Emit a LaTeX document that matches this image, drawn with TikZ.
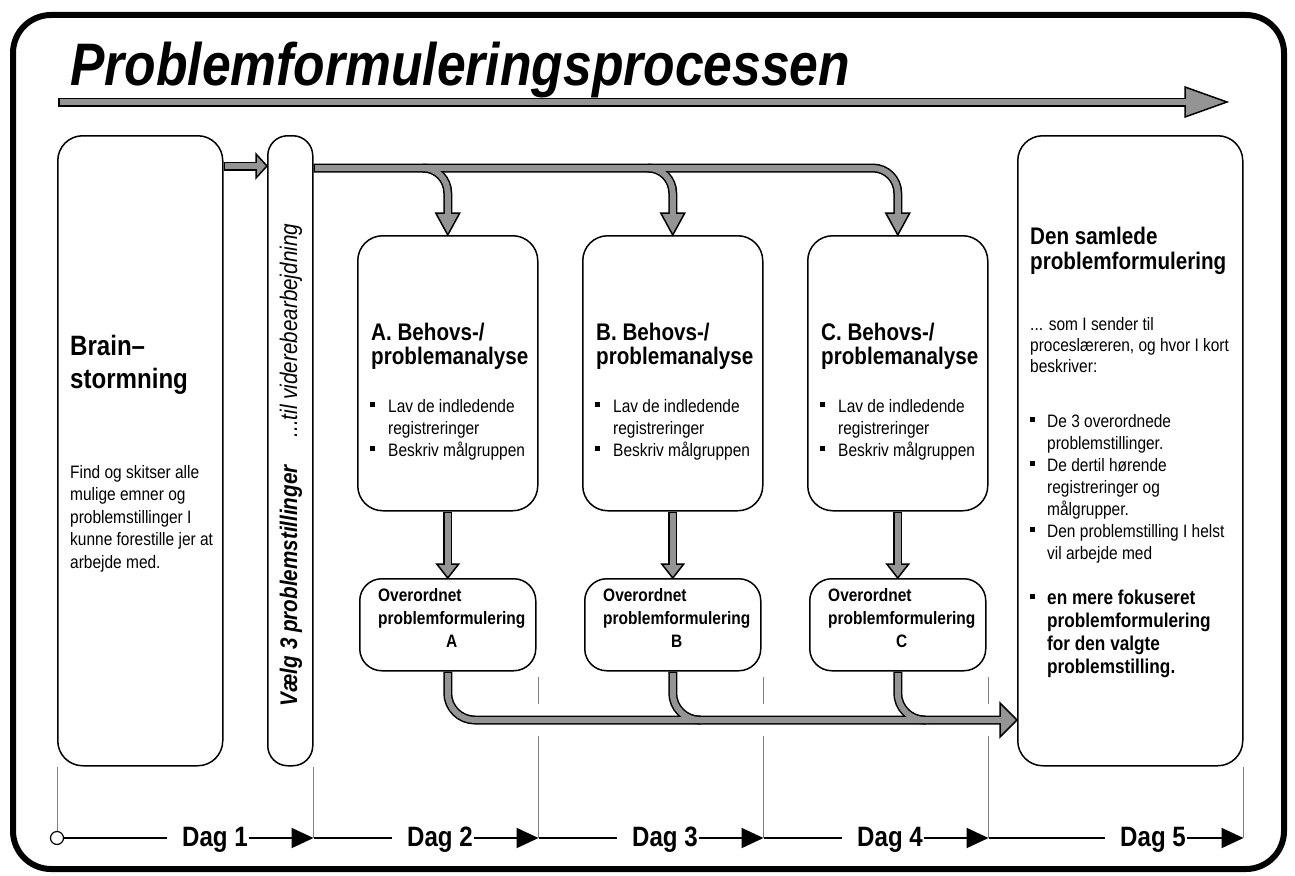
\documentclass[tikz,border=0pt]{standalone}
\usepackage{fontspec}
\setmainfont{Liberation Sans}[FakeStretch=0.86]
\usetikzlibrary{calc,arrows.meta}
\definecolor{arrgray}{gray}{0.58}
\definecolor{guidegray}{gray}{0.5}
\newcommand\bsq{\raisebox{5pt}{\rule{5pt}{5pt}}}
\newcommand\fs[2]{\fontsize{#1}{#2}\selectfont}
\newcommand\hdown[3]{\filldraw[ahead] ($(#1)+(-#3,-#2)$) -- (#1) -- ($(#1)+(#3,-#2)$) -- cycle;}
\newcommand\hright[3]{\filldraw[ahead] ($(#1)+(-#2,-#3)$) -- (#1) -- ($(#1)+(-#2,#3)$) -- cycle;}
\newcommand\allpipes[1]{%
  \draw[#1] (ts) -- ($(te)+(-42,0)$);
  \draw[#1] (bs) -- ($(bv)+(-11,0)$);
  \draw[#1, rounded corners=25pt] (t0) -- (bC.north |- t0) -- ($(bC.north)+(0,-22)$);
  \draw[#1, rounded corners=25pt] ($(bA.north |- t0)+(-25,0)$) -- (bA.north |- t0) -- ($(bA.north)+(0,-22)$);
  \draw[#1, rounded corners=25pt] ($(bB.north |- t0)+(-25,0)$) -- (bB.north |- t0) -- ($(bB.north)+(0,-22)$);
  \draw[#1] (bA.south) -- ($(oA.north)+(0,-14)$);
  \draw[#1] (bB.south) -- ($(oB.north)+(0,-14)$);
  \draw[#1] (bC.south) -- ($(oC.north)+(0,-14)$);
  \draw[#1, rounded corners=27pt] (oA.south) -- (oA.south |- bot) -- ($(dsin)+(-17,0)$);
  \draw[#1, rounded corners=27pt] (oB.south) -- (oB.south |- bot) -- ($(oB.south |- bot)+(28,0)$);
  \draw[#1, rounded corners=27pt] (oC.south) -- (oC.south |- bot) -- ($(oC.south |- bot)+(28,0)$);
}
\begin{document}
\begin{tikzpicture}[x=1pt,y=-1pt,
  box/.style={draw, line width=1.5pt, rounded corners=25pt, fill=white, inner sep=0pt, anchor=north west},
  ahead/.style={fill=arrgray, draw=black, line width=1.5pt, line join=miter},
  guide/.style={draw=guidegray, line width=1pt},
  tlline/.style={line width=2pt},
  tltip/.style={-{Triangle[length=22pt,width=20pt]}},
  txt/.style={inner sep=0pt, anchor=base west},
  day/.style={inner sep=0pt, anchor=base, font=\bfseries\fs{28}{28}},
]
\useasboundingbox (0,0) rectangle (1295,875);
\draw[line width=6pt, rounded corners=38pt] (13,15) rectangle (1284,869);

% boxes
\node[box, minimum width=165pt, minimum height=630pt] (brain) at (57,135) {};
\node[box, rounded corners=20pt, minimum width=45pt, minimum height=630pt] (vaelg) at (267,135) {};
\node[box, minimum width=180pt, minimum height=275pt] (bA) at (357,235) {};
\node[box, minimum width=180pt, minimum height=275pt] (bB) at (582,235) {};
\node[box, minimum width=180pt, minimum height=275pt] (bC) at (807,235) {};
\node[box, rounded corners=22pt, minimum width=176pt, minimum height=92pt] (oA) at (359,578) {};
\node[box, rounded corners=22pt, minimum width=176pt, minimum height=92pt] (oB) at (584,578) {};
\node[box, rounded corners=22pt, minimum width=176pt, minimum height=92pt] (oC) at (809,578) {};
\node[box, minimum width=225pt, minimum height=630pt] (ds) at (1017,135) {};

% coordinates
\coordinate (t0) at ($(vaelg.north east)+(0,33)$);
\coordinate (bot) at (0,720);
\coordinate (tline) at (0,838);
\coordinate (ts) at (58,102);
\coordinate (te) at (1227,102);
\coordinate (bv) at ($(vaelg.north west)+(0,31)$);
\coordinate (bs) at ($(brain.north east)+(0,31)$);
\coordinate (dsin) at (ds.west |- bot);

% guide lines
\draw[guide] (brain.south west) -- (brain.south west |- tline);
\draw[guide] (vaelg.south east) -- (vaelg.south east |- tline);
\foreach \b/\o in {bA/oA,bB/oB,bC/oC} {
  \draw[guide] ($(\b.east |- \o.south)+(0,5)$) -- ($(\b.east |- bot)+(0,-16)$);
  \draw[guide] ($(\b.east |- bot)+(0,16)$) -- (\b.east |- tline);
}
\draw[guide] (ds.south east) -- (ds.south east |- tline);

% pipes
\allpipes{line width=9pt, black}
\hright{te}{42}{15}
\hright{bv}{11}{12}
\hdown{bA.north}{22}{12}
\hdown{bB.north}{22}{12}
\hdown{bC.north}{22}{12}
\hdown{oA.north}{14}{11}
\hdown{oB.north}{14}{11}
\hdown{oC.north}{14}{11}
\hright{dsin}{17}{17}
\allpipes{line width=6pt, arrgray, shorten <=1.5pt, shorten >=-2.5pt}

% texts
\node[txt, font=\bfseries\itshape\fs{60}{60}] (title) at (70,85) {Problemformuleringsprocessen};
\node[txt, font=\bfseries\fs{28}{33}] (brainH) at (70,355) {\begin{tabular}[t]{@{}l@{}}Brain–\\stormning\end{tabular}};
\node[txt, font=\fs{18}{22.5}] (brainB) at (70,478) {\begin{tabular}[t]{@{}l@{}}Find og skitser alle\\mulige emner og\\problemstillinger I\\kunne forestille jer at\\arbejde med.\end{tabular}};
\node[inner sep=0pt, rotate=90, anchor=base] (vtext) at (297,465) {{\bfseries\itshape\fs{24}{24}Vælg 3 problemstillinger}\hspace{28pt}{\itshape\fs{24}{24}...til viderebearbejdning}};

\foreach \L/\x in {A/0,B/225,C/450} {
  \node[txt, font=\bfseries\fs{24}{23}] (h\L) at (371+\x,340) {\begin{tabular}[t]{@{}l@{}}\L. Behovs-/\\problemanalyse\end{tabular}};
  \node[txt, font=\fs{18}{22}] (l\L) at (370+\x,412) {\begin{tabular}[t]{@{}l@{\hspace{13pt}}l@{}}\bsq & Lav de indledende\\ & registreringer\\ \bsq & Beskriv målgruppen\end{tabular}};
  \node[txt, font=\bfseries\fs{18}{23}] (ot\L) at (378+\x,601) {\begin{tabular}[t]{@{}l@{}}Overordnet\\problemformulering\\\multicolumn{1}{@{}c@{}}{\L}\end{tabular}};
}

\node[txt, font=\bfseries\fs{24}{25}] (dsH) at (1030,244) {\begin{tabular}[t]{@{}l@{}}Den samlede\\problemformulering\end{tabular}};
\node[txt, font=\fs{18}{21}] (dsB) at (1030,330) {\begin{tabular}[t]{@{}l@{}}... som I sender til\\proceslæreren, og hvor I kort\\beskriver:\end{tabular}};
\node[txt, font=\fs{18}{22}] (dsL) at (1030,427) {\begin{tabular}[t]{@{}l@{\hspace{12pt}}l@{}}\bsq & De 3 overordnede\\ & problemstillinger.\\ \bsq & De dertil hørende\\ & registreringer og\\ & målgrupper.\\ \bsq & Den problemstilling I helst\\ & vil arbejde med\end{tabular}};
\node[txt, font=\bfseries\fs{20}{23.3}] (dsF) at (1030,604) {\begin{tabular}[t]{@{}l@{\hspace{12pt}}l@{}}\bsq & en mere fokuseret\\ & problemformulering\\ & for den valgte\\ & problemstilling.\end{tabular}};

% timeline
\node[circle, draw, fill=white, line width=1.2pt, minimum size=13pt, inner sep=0pt] (c0) at (brain.south west |- tline) {};
\node[day] (d1) at (215,846) {Dag 1};
\node[day] (d2) at (440,846) {Dag 2};
\node[day] (d3) at (665,846) {Dag 3};
\node[day] (d4) at (890,846) {Dag 4};
\node[day] (d5) at (1153,846) {Dag 5};
\draw[tlline] (c0.east) -- ($(d1.west |- tline)+(-15,0)$);
\draw[tlline, tltip] ($(d1.east |- tline)+(1,0)$) -- (vaelg.south east |- tline);
\draw[tlline] (vaelg.south east |- tline) -- ($(d2.west |- tline)+(-15,0)$);
\draw[tlline, tltip] ($(d2.east |- tline)+(1,0)$) -- (bA.east |- tline);
\draw[tlline] (bA.east |- tline) -- ($(d3.west |- tline)+(-15,0)$);
\draw[tlline, tltip] ($(d3.east |- tline)+(1,0)$) -- (bB.east |- tline);
\draw[tlline] (bB.east |- tline) -- ($(d4.west |- tline)+(-15,0)$);
\draw[tlline, tltip] ($(d4.east |- tline)+(1,0)$) -- (bC.east |- tline);
\draw[tlline] (bC.east |- tline) -- ($(d5.west |- tline)+(-15,0)$);
\draw[tlline, tltip] ($(d5.east |- tline)+(1,0)$) -- (ds.east |- tline);
\end{tikzpicture}
\end{document}
